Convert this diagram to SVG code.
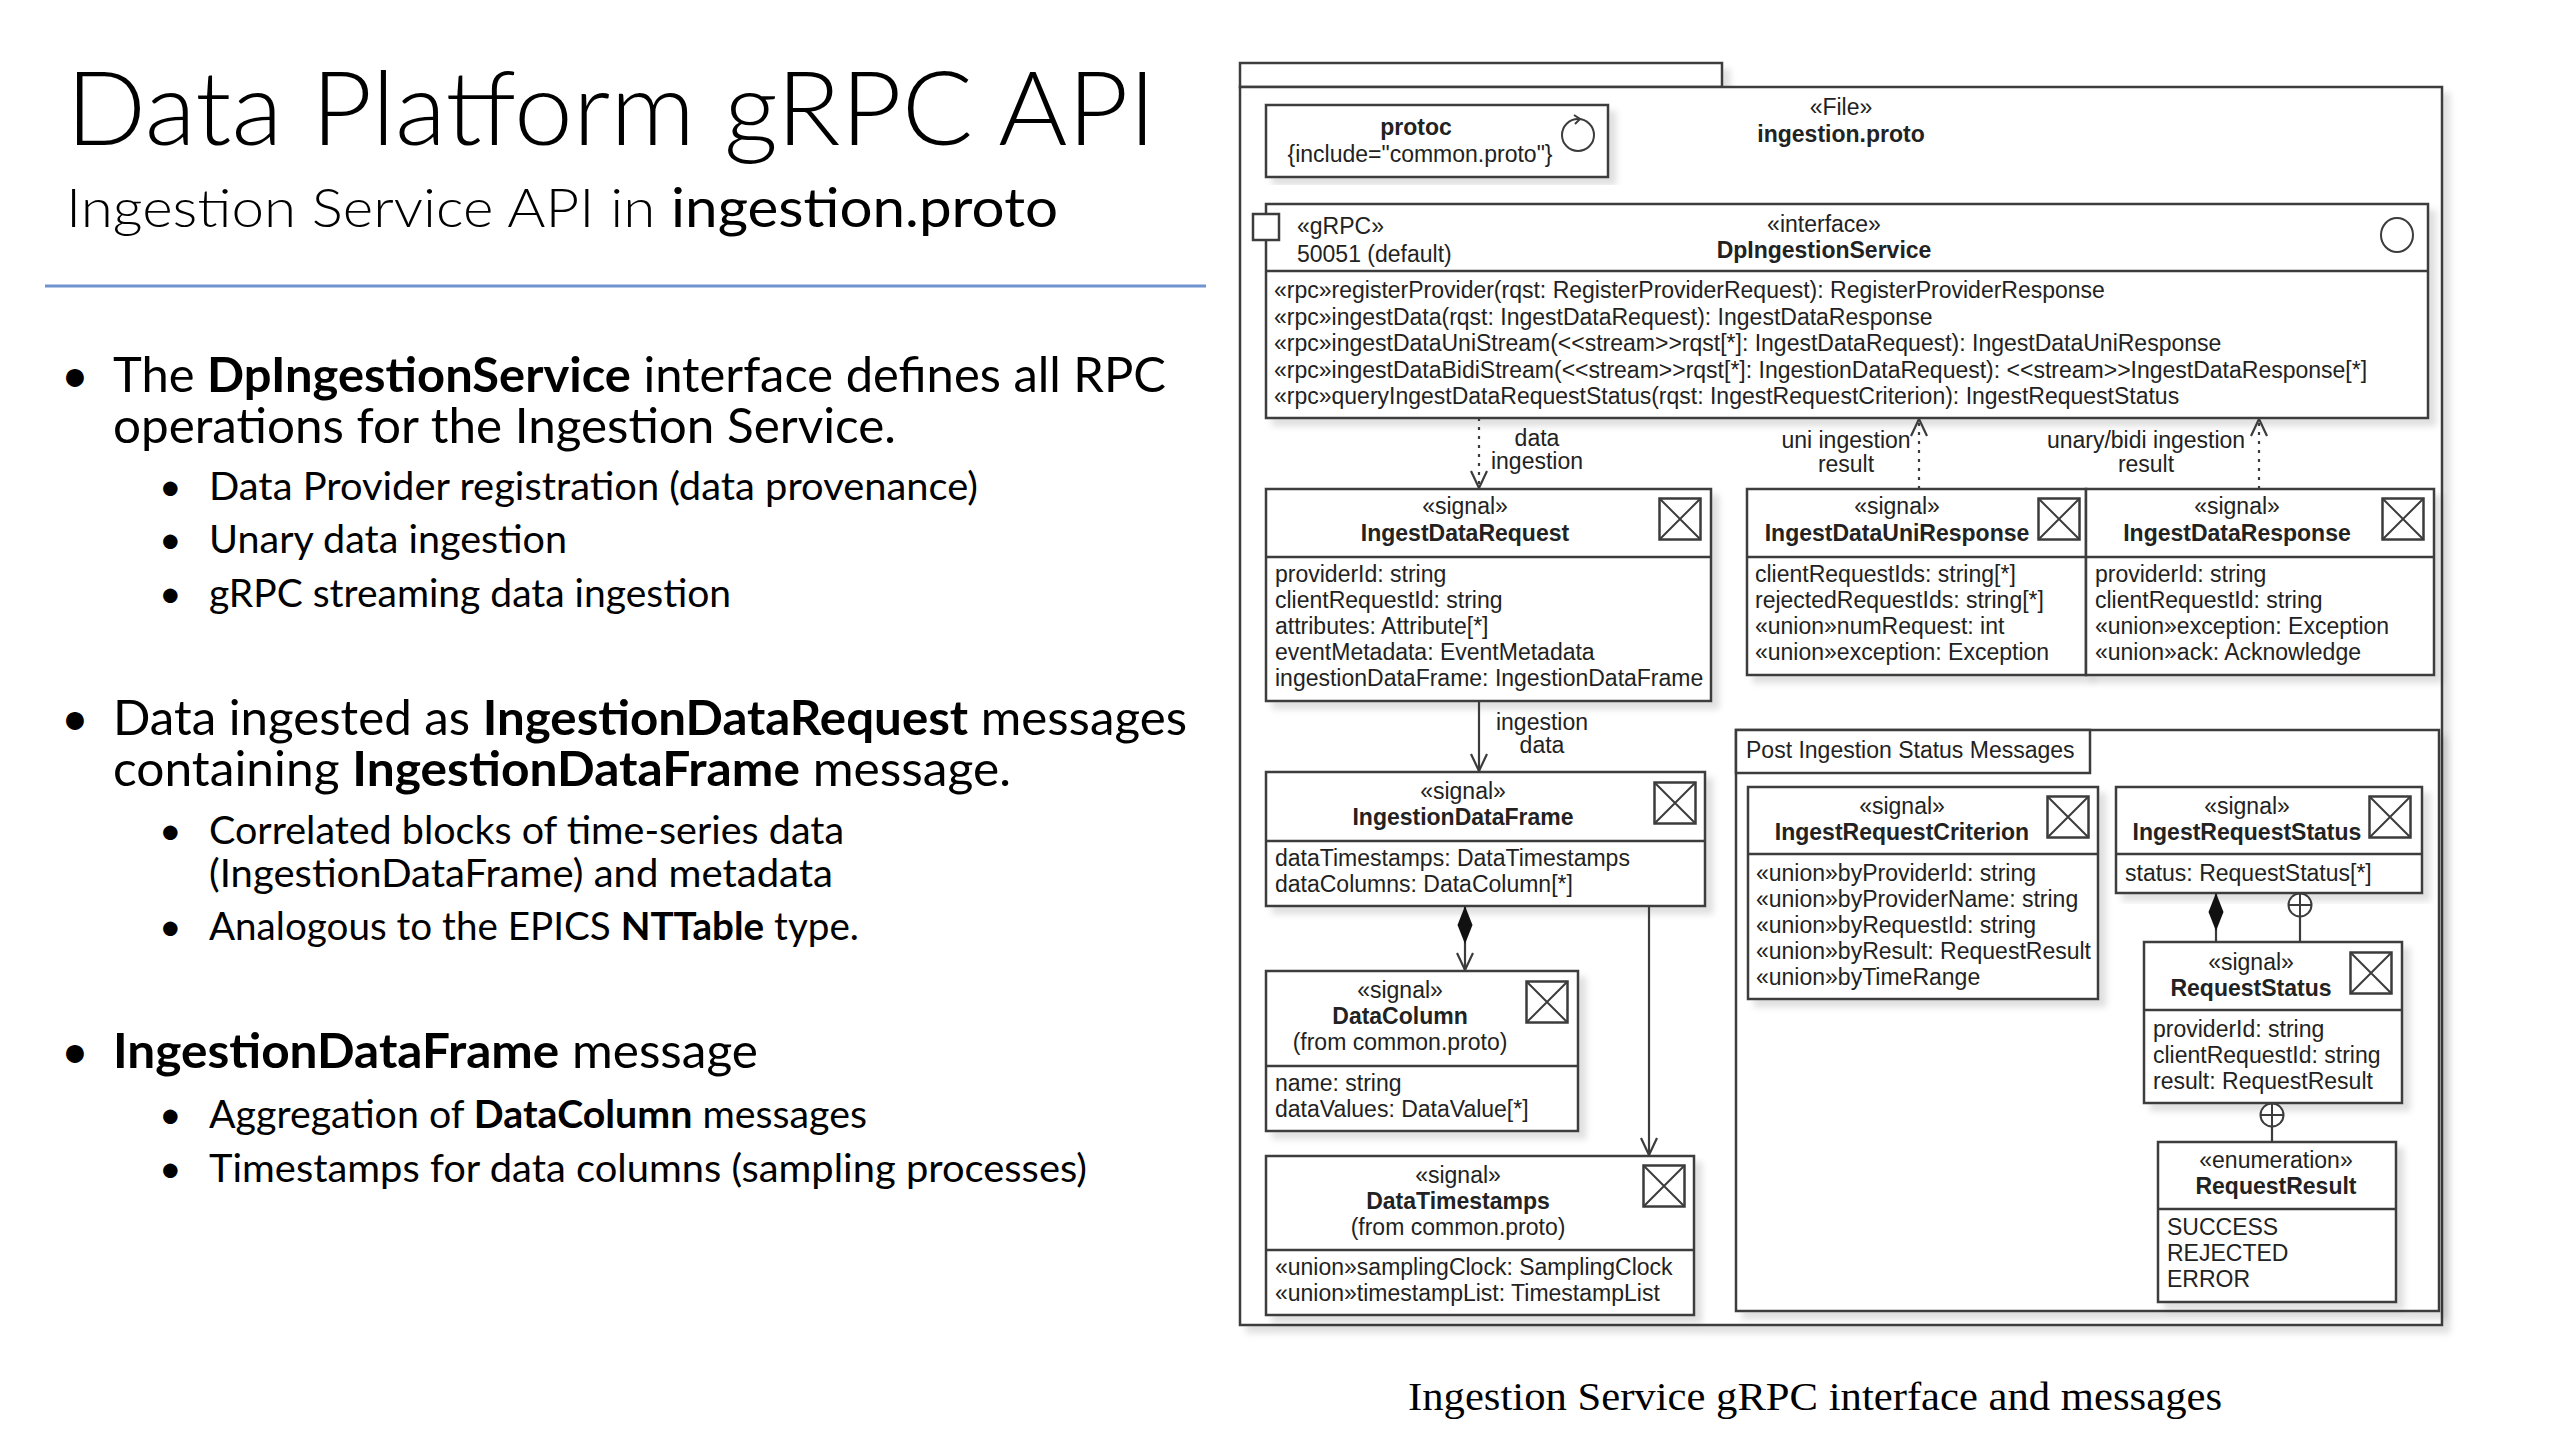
<svg xmlns="http://www.w3.org/2000/svg" width="2560" height="1440" viewBox="0 0 2560 1440">
<style>
.lt{font-family:Lato,'Open Sans',sans-serif;fill:#000}
.u{font-family:'Liberation Sans',Arial,sans-serif;font-size:23px;fill:#222}
.c{text-anchor:middle}
.b{font-weight:bold}
.box{fill:#fff;stroke:#3c3c3c;stroke-width:2.5}
.sh{filter:url(#sh)}
.dv{stroke:#3c3c3c;stroke-width:2.5;fill:none}
.conn{fill:none;stroke:#3c3c3c;stroke-width:2.2}
.dot{stroke-dasharray:3 6}
</style>
<defs>
<filter id="sh" x="-5%" y="-5%" width="115%" height="115%">
<feDropShadow dx="7" dy="7" stdDeviation="3" flood-color="#000" flood-opacity="0.12"/>
</filter>
<symbol id="sig" viewBox="0 0 44 44">
<rect x="1.5" y="1.5" width="41" height="41" fill="#fff" stroke="#3c3c3c" stroke-width="2.5"/>
<path d="M1.5,1.5 L42.5,42.5 M42.5,1.5 L1.5,42.5" stroke="#3c3c3c" stroke-width="2"/>
</symbol>
<marker id="arr" markerUnits="userSpaceOnUse" viewBox="0 0 20 20" markerWidth="20" markerHeight="20" refX="19" refY="10" orient="auto">
<path d="M2,2 L19,10 L2,18" fill="none" stroke="#3c3c3c" stroke-width="2.2" stroke-dasharray="none"/>
</marker>
<marker id="dia" markerUnits="userSpaceOnUse" viewBox="0 0 38 16" markerWidth="38" markerHeight="16" refX="0" refY="8" orient="auto">
<path d="M0,8 L19,0.5 L38,8 L19,15.5 Z" fill="#111" stroke="none"/>
</marker>
<marker id="nest" markerUnits="userSpaceOnUse" viewBox="0 0 26 26" markerWidth="26" markerHeight="26" refX="1" refY="13" orient="auto">
<circle cx="13" cy="13" r="11.5" fill="#fff" stroke="#3c3c3c" stroke-width="2"/>
<path d="M13,1.5 V24.5 M1.5,13 H24.5" stroke="#3c3c3c" stroke-width="2" fill="none"/>
</marker>
</defs>

<rect width="2560" height="1440" fill="#fff"/>

<!-- Left text panel -->
<g id="slide-text">
<text class="lt" x="66" y="145" font-size="102" font-weight="300" textLength="1090" lengthAdjust="spacingAndGlyphs">Data Platform gRPC API</text>
<text class="lt" x="66" y="227" font-size="54" font-weight="300" textLength="992" lengthAdjust="spacingAndGlyphs">Ingestion Service API in <tspan font-weight="400">ingestion.proto</tspan></text>
<line x1="45" y1="286" x2="1206" y2="286" stroke="#7094d0" stroke-width="3"/>

<text class="lt" x="61" y="392" font-size="48">•</text>
<text class="lt" font-size="48"><tspan x="113" y="392" textLength="1053" lengthAdjust="spacingAndGlyphs">The <tspan font-weight="bold">DpIngestionService</tspan> interface defines all RPC</tspan><tspan x="113" y="443" textLength="783" lengthAdjust="spacingAndGlyphs">operations for the Ingestion Service.</tspan></text>
<text class="lt" x="159" y="500" font-size="39">•</text>
<text class="lt" x="209" y="500" font-size="39" textLength="769" lengthAdjust="spacingAndGlyphs">Data Provider registration (data provenance)</text>
<text class="lt" x="159" y="553" font-size="39">•</text>
<text class="lt" x="209" y="553" font-size="39" textLength="358" lengthAdjust="spacingAndGlyphs">Unary data ingestion</text>
<text class="lt" x="159" y="607" font-size="39">•</text>
<text class="lt" x="209" y="607" font-size="39" textLength="522" lengthAdjust="spacingAndGlyphs">gRPC streaming data ingestion</text>

<text class="lt" x="61" y="735" font-size="48">•</text>
<text class="lt" font-size="48"><tspan x="113" y="735" textLength="1074" lengthAdjust="spacingAndGlyphs">Data ingested as <tspan font-weight="bold">IngestionDataRequest</tspan> messages</tspan><tspan x="113" y="786" textLength="898" lengthAdjust="spacingAndGlyphs">containing <tspan font-weight="bold">IngestionDataFrame</tspan> message.</tspan></text>
<text class="lt" x="159" y="844" font-size="39">•</text>
<text class="lt" font-size="39"><tspan x="209" y="844" textLength="635" lengthAdjust="spacingAndGlyphs">Correlated blocks of time-series data</tspan><tspan x="209" y="887" textLength="624" lengthAdjust="spacingAndGlyphs">(IngestionDataFrame) and metadata</tspan></text>
<text class="lt" x="159" y="940" font-size="39">•</text>
<text class="lt" x="209" y="940" font-size="39" textLength="650" lengthAdjust="spacingAndGlyphs">Analogous to the EPICS <tspan font-weight="bold">NTTable</tspan> type.</text>

<text class="lt" x="61" y="1068" font-size="48">•</text>
<text class="lt" x="113" y="1068" font-size="48" textLength="645" lengthAdjust="spacingAndGlyphs"><tspan font-weight="bold">IngestionDataFrame</tspan> message</text>
<text class="lt" x="159" y="1128" font-size="39">•</text>
<text class="lt" x="209" y="1128" font-size="39" textLength="658" lengthAdjust="spacingAndGlyphs">Aggregation of <tspan font-weight="bold">DataColumn</tspan> messages</text>
<text class="lt" x="159" y="1182" font-size="39">•</text>
<text class="lt" x="209" y="1182" font-size="39" textLength="878" lengthAdjust="spacingAndGlyphs">Timestamps for data columns (sampling processes)</text>
</g>

<!-- File package -->
<g id="file-ingestion-proto">
<rect class="box sh" x="1240" y="63" width="482" height="24"/>
<rect class="box sh" x="1240" y="87" width="1202" height="1238"/>
<text class="u c" x="1841" y="115">«File»</text>
<text class="u c b" x="1841" y="142">ingestion.proto</text>
</g>

<g id="protoc">
<rect class="box sh" x="1266" y="105" width="342" height="72"/>
<text class="u c b" x="1416" y="135">protoc</text>
<text class="u c" x="1420" y="162">{include="common.proto"}</text>
<circle cx="1578" cy="135" r="16" fill="none" stroke="#3c3c3c" stroke-width="2"/>
<path d="M1574,115 L1580,119 L1575,124" fill="none" stroke="#3c3c3c" stroke-width="2"/>
</g>

<g id="DpIngestionService">
<rect class="box sh" x="1266" y="204" width="1162" height="214"/>
<line class="dv" x1="1266" y1="271" x2="2428" y2="271"/>
<rect x="1253" y="214" width="26" height="26" fill="#fff" stroke="#3c3c3c" stroke-width="2.5"/>
<text class="u" x="1297" y="234">«gRPC»</text>
<text class="u" x="1297" y="262">50051 (default)</text>
<text class="u c" x="1824" y="232">«interface»</text>
<text class="u c b" x="1824" y="258">DpIngestionService</text>
<ellipse cx="2397" cy="235" rx="16" ry="17" fill="none" stroke="#3c3c3c" stroke-width="2"/>
<text class="u" x="1274" y="298">«rpc»registerProvider(rqst: RegisterProviderRequest): RegisterProviderResponse</text>
<text class="u" x="1274" y="324.5">«rpc»ingestData(rqst: IngestDataRequest): IngestDataResponse</text>
<text class="u" x="1274" y="351">«rpc»ingestDataUniStream(&lt;&lt;stream&gt;&gt;rqst[*]: IngestDataRequest): IngestDataUniResponse</text>
<text class="u" x="1274" y="377.5">«rpc»ingestDataBidiStream(&lt;&lt;stream&gt;&gt;rqst[*]: IngestionDataRequest): &lt;&lt;stream&gt;&gt;IngestDataResponse[*]</text>
<text class="u" x="1274" y="404">«rpc»queryIngestDataRequestStatus(rqst: IngestRequestCriterion): IngestRequestStatus</text>
</g>

<g id="IngestDataRequest">
<rect class="box sh" x="1266" y="489" width="445" height="212"/>
<line class="dv" x1="1266" y1="557" x2="1711" y2="557"/>
<use href="#sig" x="1658" y="497" width="44" height="44"/>
<text class="u c" x="1465" y="514">«signal»</text>
<text class="u c b" x="1465" y="541">IngestDataRequest</text>
<text class="u" x="1275" y="582">providerId: string</text>
<text class="u" x="1275" y="608">clientRequestId: string</text>
<text class="u" x="1275" y="634">attributes: Attribute[*]</text>
<text class="u" x="1275" y="660">eventMetadata: EventMetadata</text>
<text class="u" x="1275" y="686">ingestionDataFrame: IngestionDataFrame</text>
</g>

<g id="IngestDataUniResponse">
<rect class="box sh" x="1747" y="489" width="339" height="186"/>
<line class="dv" x1="1747" y1="557" x2="2086" y2="557"/>
<use href="#sig" x="2037" y="497" width="44" height="44"/>
<text class="u c" x="1897" y="514">«signal»</text>
<text class="u c b" x="1897" y="541">IngestDataUniResponse</text>
<text class="u" x="1755" y="582">clientRequestIds: string[*]</text>
<text class="u" x="1755" y="608">rejectedRequestIds: string[*]</text>
<text class="u" x="1755" y="634">«union»numRequest: int</text>
<text class="u" x="1755" y="660">«union»exception: Exception</text>
</g>

<g id="IngestDataResponse">
<rect class="box sh" x="2086" y="489" width="348" height="186"/>
<line class="dv" x1="2086" y1="557" x2="2434" y2="557"/>
<use href="#sig" x="2381" y="497" width="44" height="44"/>
<text class="u c" x="2237" y="514">«signal»</text>
<text class="u c b" x="2237" y="541">IngestDataResponse</text>
<text class="u" x="2095" y="582">providerId: string</text>
<text class="u" x="2095" y="608">clientRequestId: string</text>
<text class="u" x="2095" y="634">«union»exception: Exception</text>
<text class="u" x="2095" y="660">«union»ack: Acknowledge</text>
</g>

<g id="IngestionDataFrame">
<rect class="box sh" x="1266" y="772" width="439" height="134"/>
<line class="dv" x1="1266" y1="841" x2="1705" y2="841"/>
<use href="#sig" x="1653" y="781" width="44" height="44"/>
<text class="u c" x="1463" y="799">«signal»</text>
<text class="u c b" x="1463" y="825">IngestionDataFrame</text>
<text class="u" x="1275" y="866">dataTimestamps: DataTimestamps</text>
<text class="u" x="1275" y="892">dataColumns: DataColumn[*]</text>
</g>

<g id="DataColumn">
<rect class="box sh" x="1266" y="971" width="312" height="160"/>
<line class="dv" x1="1266" y1="1066" x2="1578" y2="1066"/>
<use href="#sig" x="1525" y="980" width="44" height="44"/>
<text class="u c" x="1400" y="998">«signal»</text>
<text class="u c b" x="1400" y="1024">DataColumn</text>
<text class="u c" x="1400" y="1050">(from common.proto)</text>
<text class="u" x="1275" y="1091">name: string</text>
<text class="u" x="1275" y="1117">dataValues: DataValue[*]</text>
</g>

<g id="DataTimestamps">
<rect class="box sh" x="1266" y="1156" width="428" height="159"/>
<line class="dv" x1="1266" y1="1250" x2="1694" y2="1250"/>
<use href="#sig" x="1642" y="1164" width="44" height="44"/>
<text class="u c" x="1458" y="1183">«signal»</text>
<text class="u c b" x="1458" y="1209">DataTimestamps</text>
<text class="u c" x="1458" y="1235">(from common.proto)</text>
<text class="u" x="1275" y="1275">«union»samplingClock: SamplingClock</text>
<text class="u" x="1275" y="1301">«union»timestampList: TimestampList</text>
</g>

<g id="post-ingestion-status-messages">
<rect class="box sh" x="1736" y="730" width="703" height="581"/>
<rect x="1736" y="730" width="354" height="43" fill="#fff" stroke="#3c3c3c" stroke-width="2.5"/>
<text class="u" x="1746" y="758">Post Ingestion Status Messages</text>
</g>

<g id="IngestRequestCriterion">
<rect class="box sh" x="1748" y="787" width="350" height="212"/>
<line class="dv" x1="1748" y1="854" x2="2098" y2="854"/>
<use href="#sig" x="2046" y="795" width="44" height="44"/>
<text class="u c" x="1902" y="814">«signal»</text>
<text class="u c b" x="1902" y="840">IngestRequestCriterion</text>
<text class="u" x="1756" y="881">«union»byProviderId: string</text>
<text class="u" x="1756" y="907">«union»byProviderName: string</text>
<text class="u" x="1756" y="933">«union»byRequestId: string</text>
<text class="u" x="1756" y="959">«union»byResult: RequestResult</text>
<text class="u" x="1756" y="985">«union»byTimeRange</text>
</g>

<g id="IngestRequestStatus">
<rect class="box sh" x="2116" y="787" width="306" height="106"/>
<line class="dv" x1="2116" y1="854" x2="2422" y2="854"/>
<use href="#sig" x="2368" y="795" width="44" height="44"/>
<text class="u c" x="2247" y="814">«signal»</text>
<text class="u c b" x="2247" y="840">IngestRequestStatus</text>
<text class="u" x="2125" y="881">status: RequestStatus[*]</text>
</g>

<g id="RequestStatus">
<rect class="box sh" x="2144" y="942" width="258" height="161"/>
<line class="dv" x1="2144" y1="1010" x2="2402" y2="1010"/>
<use href="#sig" x="2349" y="951" width="44" height="44"/>
<text class="u c" x="2251" y="970">«signal»</text>
<text class="u c b" x="2251" y="996">RequestStatus</text>
<text class="u" x="2153" y="1037">providerId: string</text>
<text class="u" x="2153" y="1063">clientRequestId: string</text>
<text class="u" x="2153" y="1089">result: RequestResult</text>
</g>

<g id="RequestResult">
<rect class="box sh" x="2158" y="1142" width="238" height="160"/>
<line class="dv" x1="2158" y1="1209" x2="2396" y2="1209"/>
<text class="u c" x="2276" y="1168">«enumeration»</text>
<text class="u c b" x="2276" y="1194">RequestResult</text>
<text class="u" x="2167" y="1235">SUCCESS</text>
<text class="u" x="2167" y="1261">REJECTED</text>
<text class="u" x="2167" y="1287">ERROR</text>
</g>

<g id="connectors">
<path class="conn dot" d="M1479,418 V488" marker-end="url(#arr)"/>
<path class="conn dot" d="M1919,489 V419" marker-end="url(#arr)"/>
<path class="conn dot" d="M2259,489 V419" marker-end="url(#arr)"/>
<path class="conn" d="M1479,701 V771" marker-end="url(#arr)"/>
<path class="conn" d="M1465,906 V970" marker-start="url(#dia)" marker-end="url(#arr)"/>
<path class="conn" d="M1649,906 V1155" marker-end="url(#arr)"/>
<path class="conn" d="M2216,893 V942" marker-start="url(#dia)"/>
<path class="conn" d="M2300,893 V942" marker-start="url(#nest)"/>
<path class="conn" d="M2272,1103 V1142" marker-start="url(#nest)"/>
<text class="u c" x="1537" y="446">data</text>
<text class="u c" x="1537" y="469">ingestion</text>
<text class="u c" x="1846" y="448">uni ingestion</text>
<text class="u c" x="1846" y="472">result</text>
<text class="u c" x="2146" y="448">unary/bidi ingestion</text>
<text class="u c" x="2146" y="472">result</text>
<text class="u c" x="1542" y="730">ingestion</text>
<text class="u c" x="1542" y="753">data</text>
</g>

<text x="1815" y="1410" text-anchor="middle" font-family="'Liberation Serif','Times New Roman',serif" font-size="40" fill="#000" textLength="814" lengthAdjust="spacingAndGlyphs">Ingestion Service gRPC interface and messages</text>
</svg>
